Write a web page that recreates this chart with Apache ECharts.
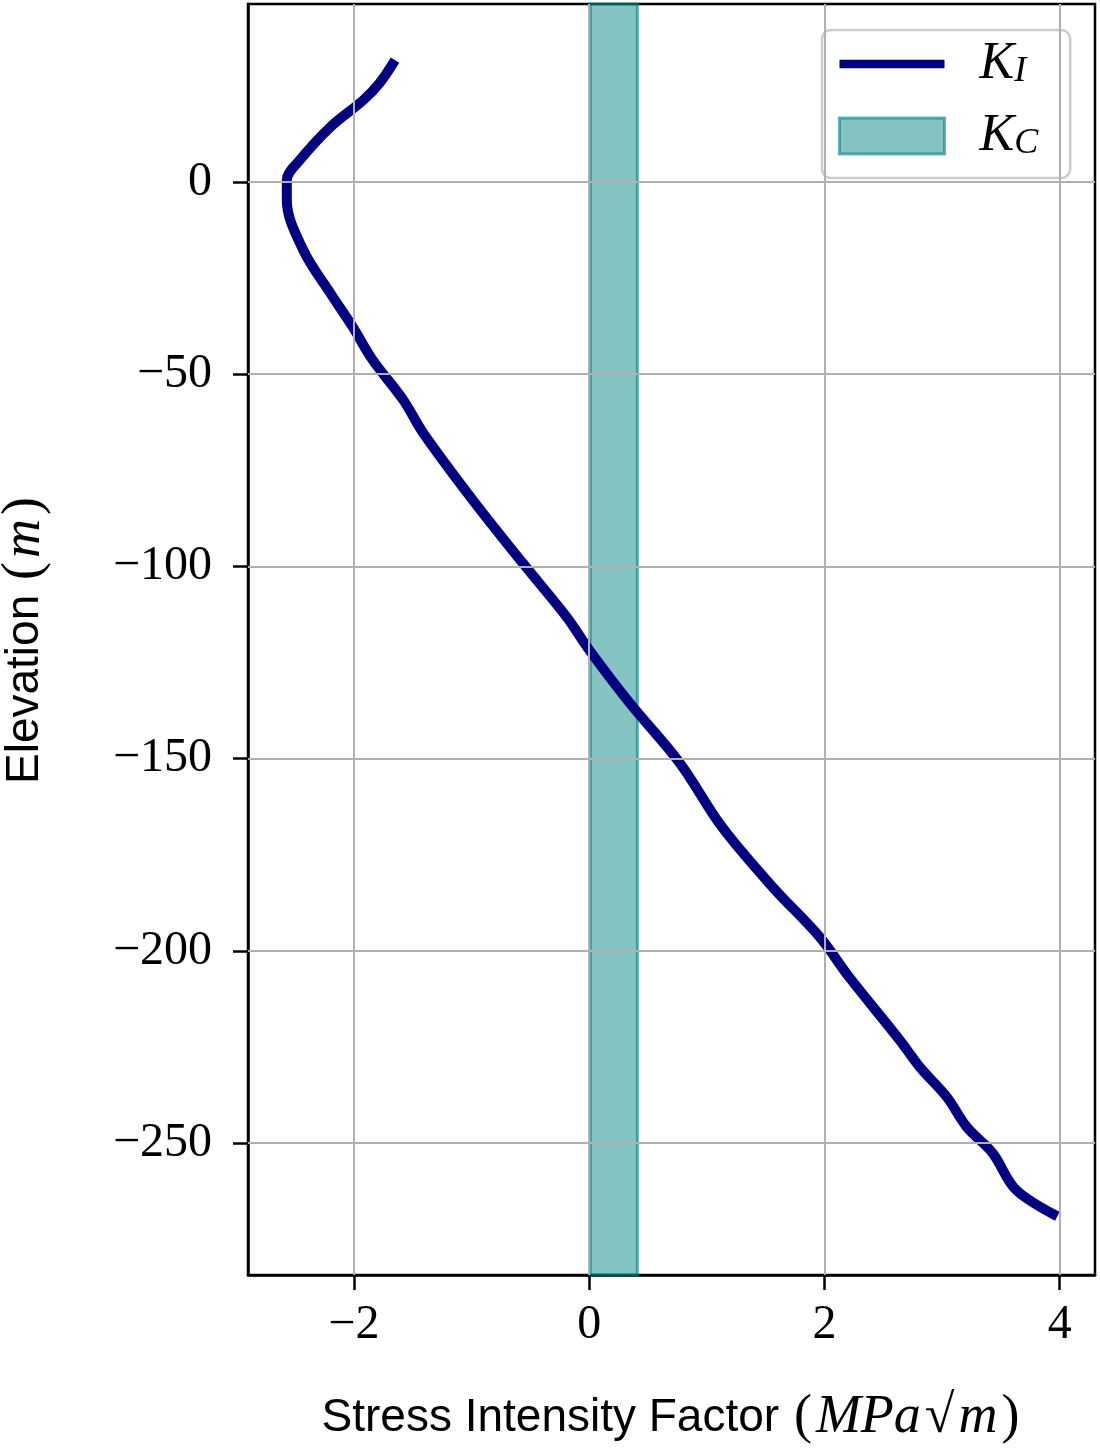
<!DOCTYPE html>
<html>
<head>
<meta charset="utf-8">
<script src="https://cdn.jsdelivr.net/npm/echarts@6/dist/echarts.min.js"></script>
<style>
  html, body { margin: 0; padding: 0; background: #fff; }
  #chart { width: 1100px; height: 1455px; }
</style>
</head>
<body>
<div id="chart"></div>
<script>
// K_I profile (x: stress intensity, y: elevation)
const kiX = [-1.65, -1.78, -1.92, -2.20, -2.46, -2.57, -2.57, -2.43, -2.20, -2.01,
             -1.84, -1.58, -1.41, -0.99, -0.565, -0.19, 0.0, 0.344, 0.77, 1.13,
             1.56, 1.96, 2.21, 2.64, 2.81, 3.04, 3.21, 3.43, 3.63, 3.98];
const kiY = [31.7, 25.8, 21.3, 14.3, 5.7, 0.5, -4.7, -17.7, -28.9, -37.7,
             -46.3, -56.7, -65.3, -82.7, -99.1, -113.2, -121.7, -135.5, -151.1, -167.8,
             -183.4, -196.4, -206.8, -223.2, -230.2, -238, -245.8, -252.6, -262.2, -269];
// K_C band (toughness range)
const kcRange = [0.01, 0.41];
// ticks
const xTicks = [-2, 0, 2, 4];
const yTicks = [0, -50, -100, -150, -200, -250];

const chart = echarts.init(document.getElementById("chart"));
const minus = v => (v < 0 ? "\u2212" + Math.abs(v) : String(v));
const gridStyle = { color: "#b0b0b0", width: 2, type: "solid" };
const titleRich = {
  s: { fontFamily: "Liberation Sans", fontSize: 46, color: "#000" },
  p: { fontFamily: "Liberation Serif", fontSize: 54, color: "#000", padding: [0, 2, 0, 2] },
  m: { fontFamily: "Liberation Serif", fontStyle: "italic", fontSize: 54, color: "#000", padding: [0, 2, 0, 2] }
};

chart.setOption({
  animation: false,
  grid: { left: 248, right: 5, top: 4, bottom: 180, show: true, borderColor: "#000", borderWidth: 2.5,
          backgroundColor: "#fff", containLabel: false, outerBoundsMode: "none" },
  legend: {
    orient: "vertical", left: 822, top: 30,
    padding: [8, 32, 16, 16],
    itemWidth: 105, itemHeight: 36, itemGap: 20,
    backgroundColor: "rgba(255,255,255,0.85)",
    borderColor: "#cccccc", borderWidth: 2.5, borderRadius: 9,
    formatter: n => n === "K_I" ? "{g|}{k|K}{s|I}" : "{g|}{k|K}{s|C}",
    textStyle: {
      rich: {
        g: { width: 30 },
        k: { fontFamily: "Liberation Serif", fontStyle: "italic", fontSize: 52, color: "#000" },
        s: { fontFamily: "Liberation Serif", fontStyle: "italic", fontSize: 36, color: "#000", padding: [16, 0, 0, 0] }
      }
    },
    data: [
      { name: "K_I", icon: "path://M0,0 L100,0 L100,8 L0,8 Z", itemStyle: { color: "#000080" } },
      { name: "K_C", icon: "rect", itemStyle: { color: "rgba(0,128,128,0.48)", borderColor: "rgba(0,128,128,0.6)", borderWidth: 3 } }
    ]
  },
  xAxis: {
    type: "value", min: -2.9, max: 4.3,
    name: "{s|Stress Intensity Factor }{p|(}{m|MPa}{p|\u221A}{m|m}{p|)}",
    nameLocation: "middle", nameGap: 116,
    nameTextStyle: { rich: titleRich },
    axisLine: { onZero: false, lineStyle: { color: "#000", width: 2.5 } },
    axisTick: { show: true, length: 15, lineStyle: { color: "#000", width: 2.5 }, customValues: xTicks },
    axisLabel: { customValues: xTicks, formatter: minus, margin: 26, fontFamily: "Liberation Serif", fontSize: 48, color: "#000" },
    splitLine: { show: false }
  },
  yAxis: {
    type: "value", min: -284.3, max: 46.3,
    name: "{s|Elevation }{p|(}{m|m}{p|)}",
    nameLocation: "middle", nameGap: 196,
    nameTextStyle: { rich: titleRich },
    axisLine: { onZero: false, lineStyle: { color: "#000", width: 2.5 } },
    axisTick: { show: true, length: 15, lineStyle: { color: "#000", width: 2.5 }, customValues: yTicks },
    axisLabel: { customValues: yTicks, formatter: minus, margin: 36, fontFamily: "Liberation Serif", fontSize: 48, color: "#000" },
    splitLine: { show: false }
  },
  series: [
    {
      name: "K_C", type: "custom", z: 1,
      itemStyle: { color: "rgba(0,128,128,0.48)", borderColor: "rgba(0,128,128,0.6)", borderWidth: 3 },
      encode: { x: [0, 1] },
      data: [kcRange],
      renderItem: (params, api) => {
        const a = api.coord([api.value(0), 0]);
        const b = api.coord([api.value(1), 0]);
        const cs = params.coordSys;
        return {
          type: "rect",
          shape: { x: a[0], y: cs.y, width: b[0] - a[0], height: cs.height },
          style: { fill: "rgba(0,128,128,0.48)", stroke: "rgba(0,128,128,0.6)", lineWidth: 3 }
        };
      }
    },
    {
      name: "grid", type: "line", z: 2, data: [], silent: true,
      markLine: {
        silent: true, symbol: "none", label: { show: false },
        lineStyle: gridStyle,
        data: xTicks.map(v => ({ xAxis: v })).concat(yTicks.map(v => ({ yAxis: v })))
      }
    },
    {
      name: "K_I", type: "line", z: 3,
      data: kiX.map((x, i) => [x, kiY[i]]),
      showSymbol: false, symbol: "none", smooth: 0.35,
      lineStyle: { color: "#000080", width: 10 },
      itemStyle: { color: "#000080" }
    }
  ]
});

window.addEventListener("resize", () => chart.resize());
</script>
</body>
</html>
